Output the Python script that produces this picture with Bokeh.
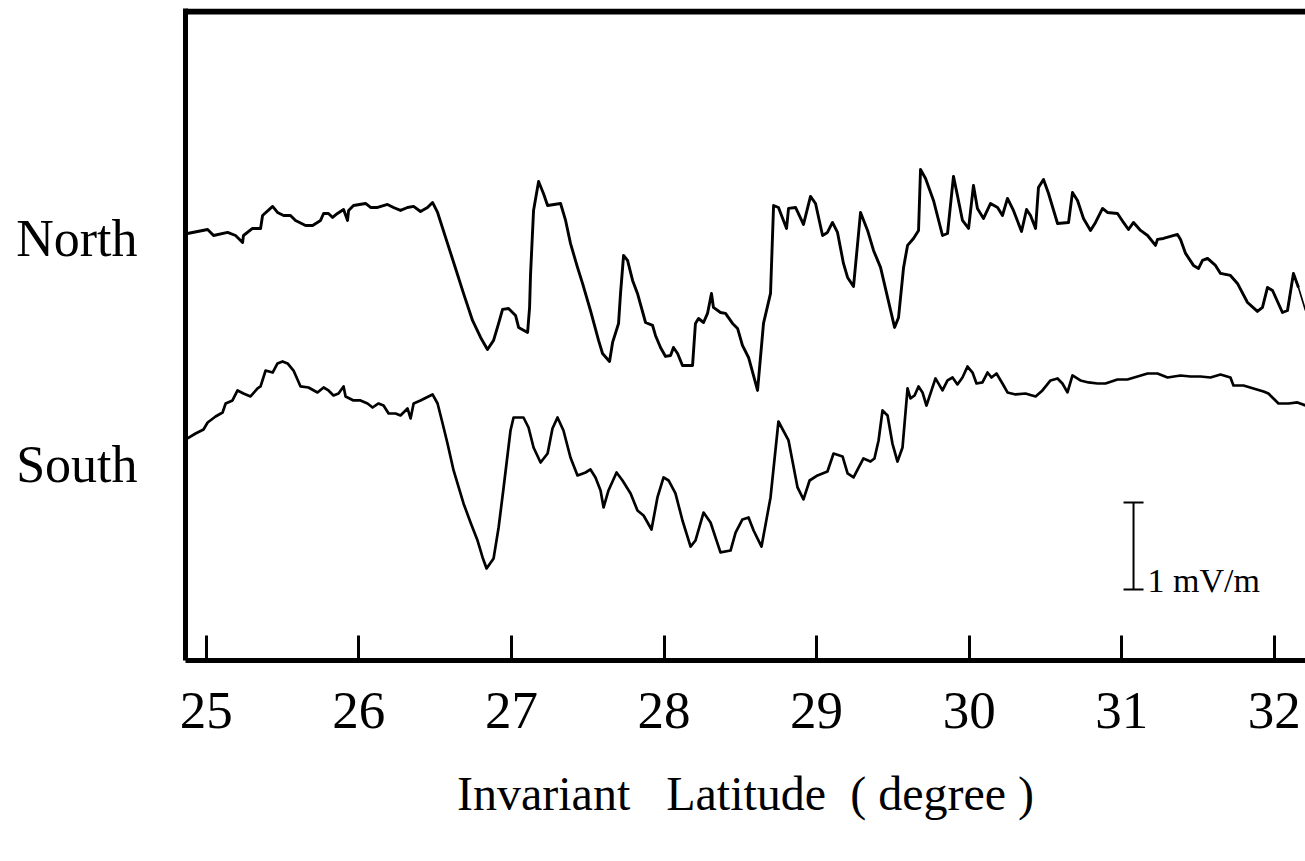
import numpy as np
from bokeh.plotting import figure
from bokeh.models import FixedTicker, Span, Whisker, TeeHead, ColumnDataSource
from bokeh.core.properties import value
from bokeh.embed import file_html
from bokeh.resources import INLINE

# ---------------- data (invariant latitude in degrees, field in mV/m) ----------------
TICKS = [25, 26, 27, 28, 29, 30, 31, 32]
TRACE_NAMES = ["North", "South"]
NORTH_OFFSET = 4.851   # vertical placement of the North trace (mV/m units)
SOUTH_OFFSET = 2.253   # vertical placement of the South trace (mV/m units)

north_lat = [
    24.877, 25.009, 25.048, 25.140, 25.192, 25.238, 25.244, 25.303, 25.356, 25.369,
    25.435, 25.467, 25.507, 25.552, 25.585, 25.651, 25.697, 25.749, 25.769, 25.801,
    25.828, 25.860, 25.900, 25.926, 25.933, 25.965, 26.044, 26.077, 26.123, 26.188,
    26.227, 26.273, 26.319, 26.359, 26.404, 26.450, 26.483, 26.516, 26.581, 26.634,
    26.686, 26.745, 26.798, 26.843, 26.883, 26.916, 26.942, 26.981, 27.027, 27.047,
    27.106, 27.119, 27.125, 27.145, 27.178, 27.210, 27.237, 27.322, 27.355, 27.387,
    27.433, 27.466, 27.518, 27.571, 27.597, 27.643, 27.663, 27.702, 27.715, 27.735,
    27.761, 27.794, 27.826, 27.879, 27.925, 27.944, 27.977, 28.010, 28.043, 28.062,
    28.089, 28.121, 28.187, 28.206, 28.226, 28.259, 28.285, 28.311, 28.324, 28.370,
    28.403, 28.449, 28.482, 28.514, 28.554, 28.613, 28.652, 28.698, 28.718, 28.750,
    28.803, 28.816, 28.862, 28.914, 28.960, 28.993, 29.039, 29.071, 29.104, 29.137,
    29.176, 29.203, 29.242, 29.288, 29.334, 29.373, 29.419, 29.465, 29.511, 29.537,
    29.570, 29.596, 29.635, 29.668, 29.681, 29.714, 29.766, 29.825, 29.858, 29.897,
    29.923, 29.956, 29.996, 30.028, 30.054, 30.094, 30.140, 30.186, 30.218, 30.251,
    30.290, 30.343, 30.376, 30.402, 30.435, 30.454, 30.487, 30.520, 30.579, 30.651,
    30.677, 30.710, 30.749, 30.795, 30.828, 30.874, 30.906, 30.972, 31.011, 31.044,
    31.077, 31.123, 31.169, 31.221, 31.234, 31.273, 31.319, 31.365, 31.385, 31.418,
    31.470, 31.503, 31.529, 31.562, 31.614, 31.647, 31.712, 31.758, 31.824, 31.889,
    31.922, 31.955, 31.988, 32.053, 32.086, 32.125, 32.158, 32.204,
]
north_field = [
    0.057, 0.103, 0.034, 0.069, 0.034, -0.046, 0.034, 0.115, 0.115, 0.264,
    0.368, 0.299, 0.264, 0.264, 0.207, 0.149, 0.149, 0.207, 0.287, 0.287,
    0.241, 0.287, 0.333, 0.207, 0.322, 0.379, 0.402, 0.356, 0.356, 0.391,
    0.356, 0.322, 0.356, 0.368, 0.310, 0.356, 0.414, 0.299, -0.057, -0.345,
    -0.632, -0.943, -1.138, -1.276, -1.172, -0.977, -0.816, -0.805, -0.885, -1.023,
    -1.080, -0.793, -0.425, 0.322, 0.655, 0.517, 0.379, 0.402, 0.207, -0.057,
    -0.333, -0.517, -0.828, -1.172, -1.322, -1.414, -1.195, -0.977, -0.632, -0.195,
    -0.253, -0.483, -0.632, -0.966, -1.000, -1.115, -1.253, -1.356, -1.345, -1.253,
    -1.322, -1.460, -1.460, -0.977, -0.920, -0.966, -0.862, -0.632, -0.793, -0.851,
    -0.862, -0.977, -1.034, -1.230, -1.368, -1.747, -0.977, -0.632, 0.379, 0.356,
    0.115, 0.345, 0.356, 0.161, 0.483, 0.402, 0.034, 0.069, 0.184, 0.069,
    -0.287, -0.448, -0.552, 0.299, 0.092, -0.138, -0.333, -0.678, -1.023, -0.908,
    -0.333, -0.080, 0.000, 0.092, 0.793, 0.690, 0.437, 0.034, 0.057, 0.713,
    0.494, 0.207, 0.115, 0.609, 0.345, 0.230, 0.402, 0.356, 0.264, 0.460,
    0.322, 0.080, 0.333, 0.264, 0.115, 0.586, 0.678, 0.517, 0.172, 0.184,
    0.529, 0.437, 0.230, 0.092, 0.184, 0.345, 0.299, 0.287, 0.184, 0.103,
    0.184, 0.092, 0.034, -0.080, -0.011, 0.000, 0.023, 0.046, -0.011, -0.172,
    -0.310, -0.345, -0.253, -0.230, -0.310, -0.402, -0.425, -0.517, -0.736, -0.839,
    -0.793, -0.563, -0.598, -0.851, -0.828, -0.402, -0.563, -0.828,
]

south_lat = [
    24.877, 24.930, 24.982, 25.009, 25.061, 25.107, 25.127, 25.172, 25.205, 25.244,
    25.290, 25.336, 25.356, 25.389, 25.435, 25.467, 25.500, 25.533, 25.572, 25.618,
    25.670, 25.729, 25.769, 25.801, 25.834, 25.867, 25.900, 25.913, 25.965, 26.011,
    26.057, 26.090, 26.129, 26.162, 26.195, 26.241, 26.273, 26.319, 26.339, 26.359,
    26.404, 26.483, 26.516, 26.549, 26.581, 26.621, 26.686, 26.732, 26.778, 26.811,
    26.837, 26.883, 26.916, 26.948, 26.994, 27.014, 27.079, 27.112, 27.145, 27.191,
    27.237, 27.269, 27.302, 27.341, 27.387, 27.433, 27.486, 27.518, 27.551, 27.584,
    27.604, 27.636, 27.689, 27.728, 27.781, 27.826, 27.866, 27.918, 27.957, 27.997,
    28.030, 28.075, 28.121, 28.174, 28.206, 28.259, 28.305, 28.370, 28.436, 28.469,
    28.514, 28.554, 28.587, 28.639, 28.698, 28.750, 28.816, 28.875, 28.914, 28.954,
    29.006, 29.071, 29.111, 29.170, 29.203, 29.242, 29.307, 29.353, 29.379, 29.406,
    29.432, 29.465, 29.497, 29.530, 29.563, 29.596, 29.615, 29.642, 29.668, 29.694,
    29.720, 29.753, 29.779, 29.825, 29.858, 29.891, 29.923, 29.956, 29.989, 30.022,
    30.048, 30.087, 30.120, 30.146, 30.179, 30.218, 30.251, 30.304, 30.369, 30.435,
    30.480, 30.533, 30.579, 30.611, 30.644, 30.677, 30.729, 30.782, 30.841, 30.893,
    30.972, 31.037, 31.103, 31.169, 31.234, 31.300, 31.385, 31.450, 31.516, 31.581,
    31.647, 31.712, 31.732, 31.798, 31.863, 31.929, 31.961, 31.994, 32.027, 32.093,
    32.151, 32.204,
]
south_field = [
    0.299, 0.356, 0.402, 0.483, 0.552, 0.598, 0.701, 0.736, 0.851, 0.816,
    0.782, 0.874, 0.897, 1.080, 1.057, 1.161, 1.184, 1.161, 1.080, 0.897,
    0.885, 0.828, 0.885, 0.851, 0.793, 0.816, 0.897, 0.782, 0.736, 0.736,
    0.701, 0.655, 0.701, 0.678, 0.586, 0.586, 0.563, 0.644, 0.529, 0.701,
    0.736, 0.805, 0.701, 0.471, 0.241, -0.069, -0.448, -0.667, -0.874, -1.069,
    -1.195, -1.080, -0.724, -0.276, 0.391, 0.540, 0.540, 0.425, 0.195, 0.023,
    0.126, 0.414, 0.540, 0.391, 0.080, -0.126, -0.092, -0.057, -0.149, -0.299,
    -0.494, -0.299, -0.092, -0.184, -0.333, -0.529, -0.586, -0.747, -0.379, -0.149,
    -0.184, -0.333, -0.644, -0.943, -0.874, -0.552, -0.667, -1.011, -0.989, -0.782,
    -0.632, -0.609, -0.759, -0.943, -0.379, 0.494, 0.276, -0.264, -0.402, -0.184,
    -0.126, -0.080, 0.126, 0.092, -0.103, -0.149, 0.069, 0.034, 0.069, 0.276,
    0.621, 0.563, 0.241, 0.034, 0.195, 0.874, 0.759, 0.793, 0.897, 0.828,
    0.678, 0.851, 0.989, 0.851, 0.966, 1.000, 0.920, 1.000, 1.126, 1.057,
    0.931, 0.943, 1.057, 1.000, 1.046, 0.931, 0.828, 0.805, 0.816, 0.782,
    0.851, 0.966, 0.989, 0.931, 0.828, 1.023, 0.966, 0.943, 0.931, 0.931,
    0.977, 0.977, 1.011, 1.046, 1.046, 1.000, 1.023, 1.011, 1.011, 1.000,
    1.034, 1.000, 0.908, 0.908, 0.874, 0.839, 0.816, 0.759, 0.701, 0.701,
    0.713, 0.678,
]

# scale bar (1 mV/m)
SCALE_LAT = 31.077
SCALE_LOW = 0.816
SCALE_LEN = 1.0
SCALE_TEXT = "1 mV/m"
X_LABEL = "Invariant\u00a0\u00a0 Latitude\u00a0 ( degree )"

FONT = "Liberation Serif"

# ---------------- figure ----------------
p = figure(width=1305, height=861,
           x_range=(24.864, 32.204), y_range=(0, 7.494),
           output_backend="svg", toolbar_location=None,
           min_border_left=185, min_border_right=0,
           min_border_top=8, min_border_bottom=201)
p.outline_line_color = None
p.background_fill_color = "white"
p.border_fill_color = "white"
p.xgrid.visible = False
p.ygrid.visible = False

# bottom axis
xa = p.xaxis[0]
xa.ticker = FixedTicker(ticks=TICKS)
xa.axis_line_width = 5
xa.axis_line_color = "black"
xa.major_tick_in = 25
xa.major_tick_out = 0
xa.major_tick_line_width = 3
xa.major_tick_line_color = "black"
xa.minor_tick_line_color = None
xa.major_label_text_font = FONT
xa.major_label_text_font_size = "53px"
xa.major_label_text_color = "black"
xa.major_label_standoff = 32
xa.axis_label = X_LABEL
xa.axis_label_text_font = FONT
xa.axis_label_text_font_size = "48px"
xa.axis_label_text_font_style = "normal"
xa.axis_label_text_color = "black"
xa.axis_label_standoff = 36

# left axis: trace names as tick labels
ya = p.yaxis[0]
ya.ticker = FixedTicker(ticks=[SOUTH_OFFSET, NORTH_OFFSET])
ya.major_label_overrides = {NORTH_OFFSET: TRACE_NAMES[0], SOUTH_OFFSET: TRACE_NAMES[1]}
ya.axis_line_width = 5
ya.axis_line_color = "black"
ya.major_tick_line_color = None
ya.minor_tick_line_color = None
ya.major_tick_in = 0
ya.major_tick_out = 0
ya.major_label_text_font = FONT
ya.major_label_text_font_size = "52px"
ya.major_label_text_color = "black"
ya.major_label_standoff = 48

# top border line
p.add_layout(Span(location=7.46, dimension="width", line_color="black", line_width=6))

# traces
nx = np.array(north_lat)
ny = np.array(north_field) + NORTH_OFFSET
thin = nx >= 31.38
p.line(nx[~thin | np.roll(thin, -1)], ny[~thin | np.roll(thin, -1)],
       line_color="black", line_width=2.9, line_join="round")
p.line(nx[thin | np.roll(thin, -1)], ny[thin | np.roll(thin, -1)],
       line_color="black", line_width=1.7, line_join="round")

sx = np.array(south_lat)
sy = np.array(south_field) + SOUTH_OFFSET
p.line(sx, sy, line_color="black", line_width=2.7, line_join="round")

# scale bar
sb = ColumnDataSource(dict(base=[SCALE_LAT], lower=[SCALE_LOW], upper=[SCALE_LOW + SCALE_LEN]))
p.add_layout(Whisker(source=sb, base="base", lower="lower", upper="upper",
                     dimension="height", line_color="black", line_width=2,
                     upper_head=TeeHead(size=20, line_color="black", line_width=2),
                     lower_head=TeeHead(size=20, line_color="black", line_width=2)))
p.text(x=[SCALE_LAT], y=[SCALE_LOW + 0.1], text=[SCALE_TEXT],
       x_offset=14, text_font=value(FONT), text_font_size="34px",
       text_color="black", text_align="left", text_baseline="alphabetic")

open("out.html", "w").write(file_html(p, INLINE))
